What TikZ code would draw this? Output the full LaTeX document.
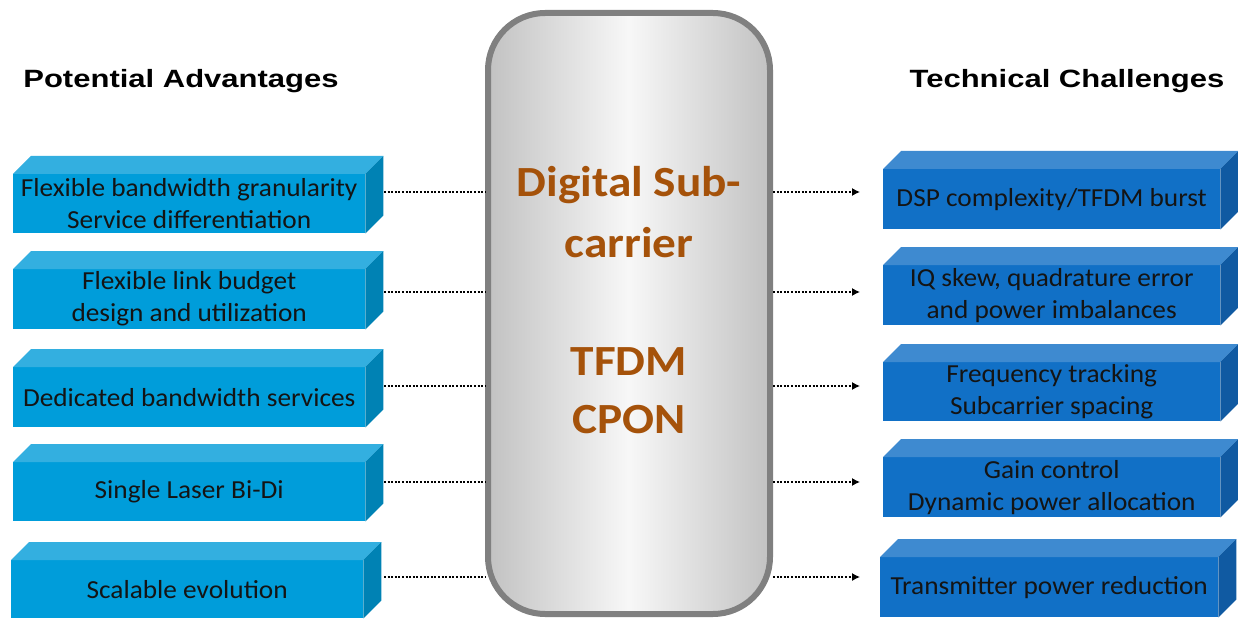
\documentclass[tikz,border=0pt]{standalone}
\usepackage{fontspec}
\setmainfont{Carlito}
\newfontfamily\boxfont{Carlito}[FakeStretch=1.05]
\newfontfamily\corefont{Carlito}[FakeStretch=1.1]
\newfontfamily\headfont{Liberation Sans}[FakeStretch=1.24]
\usetikzlibrary{arrows.meta}

\definecolor{lfront}{RGB}{0,157,218}
\definecolor{ltop}{RGB}{51,175,224}
\definecolor{lside}{RGB}{0,130,180}
\definecolor{rfront}{RGB}{17,112,198}
\definecolor{rtop}{RGB}{62,138,208}
\definecolor{rside}{RGB}{16,90,162}
\definecolor{corebrown}{RGB}{165,82,10}
\definecolor{coreedge}{RGB}{128,128,128}

% top and right faces of a cuboid whose front face is node #1
\newcommand\boxfaces[3]{%
  \fill[#2] (#1.north west) -- ++(18,-18) -- ([shift={(18pt,18pt)}]#1.north east) -- (#1.north east) -- cycle;
  \fill[#3] (#1.north east) -- ++(18,-18) -- ([shift={(18pt,18pt)}]#1.south east) -- (#1.south east) -- cycle;}

\begin{document}
\begin{tikzpicture}[x=1pt,y=-1pt,
  face/.style={inner sep=0pt, anchor=north west, align=center,
    font=\boxfont\fontsize{26}{32}\selectfont, text=black!92},
  advbox/.style={face, fill=lfront, minimum width=352pt},
  chbox/.style={face, fill=rfront, minimum width=337pt},
  link/.style={line width=1.2pt, dash pattern=on 2pt off 1.6pt},
  corelabel/.style={font=\corefont\bfseries\fontsize{43}{50}\selectfont, text=corebrown, anchor=base},
  heading/.style={font=\headfont\bfseries\fontsize{25}{28}\selectfont, anchor=base}]
\useasboundingbox (0,0) rectangle (1238,620);

% headings
\node[heading] (hl) at (181,88) {Potential Advantages};
\node[heading] (hr) at (1067,88) {Technical Challenges};

% central rounded column
\node[draw=coreedge, line width=6pt, rounded corners=57pt,
  left color=black!24, right color=black!24, middle color=black!3,
  minimum width=282pt, minimum height=601pt, inner sep=0pt] (core) at (629,313.5) {};
\node[corelabel] (c1) at (629,197) {Digital Sub-};
\node[corelabel] (c2) at (629,258) {carrier};
\node[corelabel] (c3) at (629,375) {TFDM};
\node[corelabel] (c4) at (629,433) {CPON};

% advantages
\node[advbox, minimum height=59pt] (L1) at (13,174) {Flexible bandwidth granularity\\Service differentiation};
\node[advbox, minimum height=60pt] (L2) at (13,269) {Flexible link budget\\design and utilization};
\node[advbox, minimum height=60pt] (L3) at (13,367) {Dedicated bandwidth services};
\node[advbox, minimum height=59pt] (L4) at (13,462) {Single Laser Bi-Di};
\node[advbox, minimum height=58pt] (L5) at (11,560) {Scalable evolution};
\foreach \n in {L1,L2,L3,L4,L5} {\boxfaces{\n}{ltop}{lside}}

% challenges
\node[chbox, minimum height=60pt] (R1) at (883,169) {DSP complexity/TFDM burst};
\node[chbox, minimum height=60pt] (R2) at (883,265) {IQ skew, quadrature error\\ and power imbalances};
\node[chbox, minimum height=59pt] (R3) at (883,362) {Frequency tracking\\Subcarrier spacing};
\node[chbox, minimum height=60pt] (R4) at (883,457) {Gain control\\Dynamic power allocation};
\node[chbox, minimum height=60pt, minimum width=338pt] (R5) at (880,557) {Transmitter power reduction};
\foreach \n in {R1,R2,R3,R4,R5} {\boxfaces{\n}{rtop}{rside}}

% connector ends
\foreach \i/\y in {1/192,2/292,3/386,4/482,5/577} {
  \coordinate (a\i) at (384,\y);
  \coordinate (b\i) at (860,\y);
}
\foreach \i in {1,...,5} {
  \draw[link] (a\i) -- (core.west |- a\i);
  \draw[link, -{Latex[length=8pt,width=8pt]}] (core.east |- b\i) -- (b\i);
}
\end{tikzpicture}
\end{document}
